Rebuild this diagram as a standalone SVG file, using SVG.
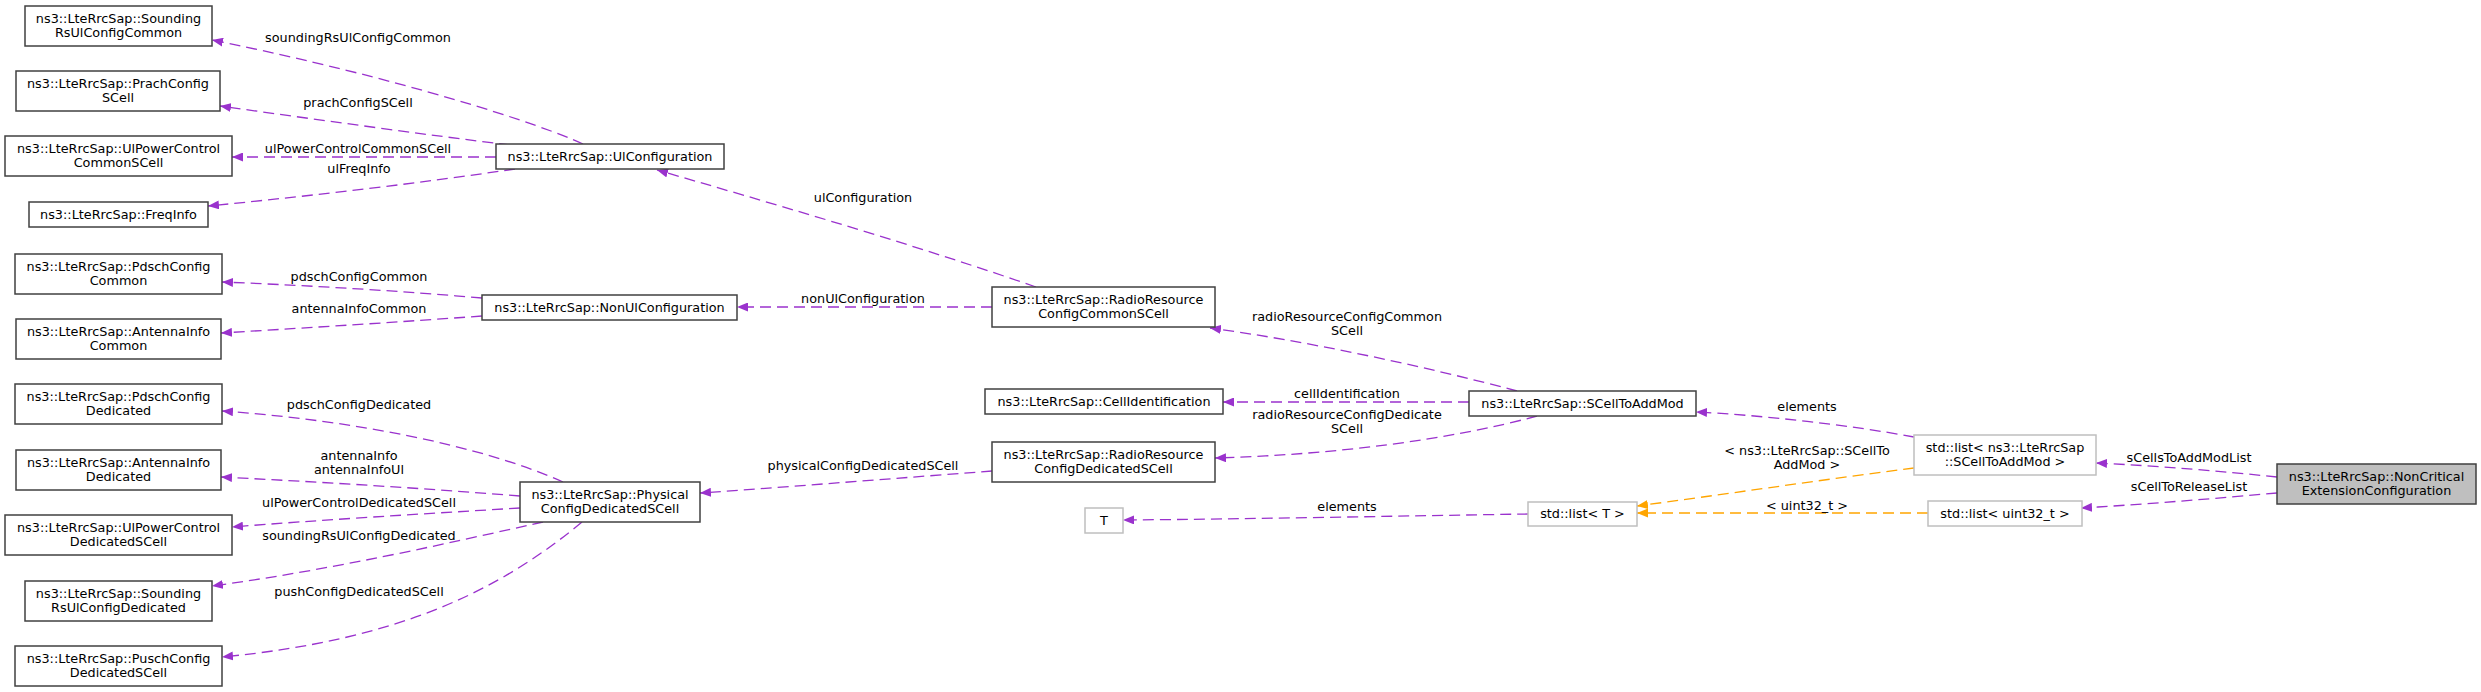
<svg xmlns="http://www.w3.org/2000/svg" width="2481" height="692" viewBox="0 0 2481 692">
<style>
text{font-family:"DejaVu Sans","Liberation Sans",sans-serif;font-size:12.8px;fill:#000;text-anchor:middle}
.n rect{fill:#fff;stroke:#404040;stroke-width:1.5}
.t rect{fill:#fff;stroke:#bfbfbf;stroke-width:1.5}
.root rect{fill:#bfbfbf;stroke:#404040;stroke-width:1.5}
.e path{fill:none;stroke:#9a32cd;stroke-width:1.3;stroke-dasharray:11,6;marker-end:url(#ap)}
.e path.o{stroke:#ffa500;marker-end:url(#ao)}
</style>
<defs>
<marker id="ap" markerUnits="userSpaceOnUse" markerWidth="12" markerHeight="9" refX="11" refY="4.5" orient="auto"><path d="M0,0 L11,4.5 L0,9 z" fill="#9a32cd"/></marker>
<marker id="ao" markerUnits="userSpaceOnUse" markerWidth="12" markerHeight="9" refX="11" refY="4.5" orient="auto"><path d="M0,0 L11,4.5 L0,9 z" fill="#ffa500"/></marker>
</defs>
<rect width="2481" height="692" fill="#fff"/>
<g id="connectors" class="e">
<path d="M583,144 C540,124 400,78 212,40"/>
<path d="M510,145 C420,134 320,120 220,106"/>
<path d="M496,157 L232,157"/>
<path d="M515,169 C420,183 320,195 208,206"/>
<path d="M1036,287 C900,240 760,200 657,170"/>
<path d="M992,307 L737,307"/>
<path d="M482,298 C400,291 320,286 222,282"/>
<path d="M482,316 C400,322 320,327 221,333"/>
<path d="M563,482 C480,445 350,420 222,411"/>
<path d="M520,496 C420,488 320,482 221,477"/>
<path d="M520,508 C420,514 320,520 232,527"/>
<path d="M543,522 C440,545 330,570 212,586"/>
<path d="M582,522 C500,590 400,640 222,657"/>
<path d="M992,471 C900,478 800,486 700,493"/>
<path d="M1517,391 C1420,365 1300,340 1210,328"/>
<path d="M1469,402 L1223,402"/>
<path d="M1537,416 C1450,440 1330,455 1215,458"/>
<path d="M1914,437 C1850,425 1760,415 1696,412"/>
<path d="M1528,514 C1400,516 1250,519 1123,520"/>
<path class="o" d="M1914,468 C1820,480 1720,495 1637,506"/>
<path class="o" d="M1928,513 L1637,513"/>
<path d="M2277,477 C2220,471 2160,466 2096,463"/>
<path d="M2277,493 C2220,498 2150,504 2081,508"/>
</g>
<g id="edge-labels">
<text x="358" y="42">soundingRsUlConfigCommon</text>
<text x="358" y="107">prachConfigSCell</text>
<text x="358" y="153">ulPowerControlCommonSCell</text>
<text x="359" y="173">ulFreqInfo</text>
<text x="863" y="202">ulConfiguration</text>
<text x="863" y="303">nonUlConfiguration</text>
<text x="359" y="281">pdschConfigCommon</text>
<text x="359" y="313">antennaInfoCommon</text>
<text x="359" y="409">pdschConfigDedicated</text>
<text x="359" y="460">antennaInfo</text>
<text x="359" y="474">antennaInfoUl</text>
<text x="359" y="507">ulPowerControlDedicatedSCell</text>
<text x="359" y="540">soundingRsUlConfigDedicated</text>
<text x="359" y="596">pushConfigDedicatedSCell</text>
<text x="863" y="470">physicalConfigDedicatedSCell</text>
<text x="1347" y="321">radioResourceConfigCommon</text>
<text x="1347" y="335">SCell</text>
<text x="1347" y="398">cellIdentification</text>
<text x="1347" y="419">radioResourceConfigDedicate</text>
<text x="1347" y="433">SCell</text>
<text x="1807" y="411">elements</text>
<text x="1347" y="511">elements</text>
<text x="1807" y="455">&lt; ns3::LteRrcSap::SCellTo</text>
<text x="1807" y="469">AddMod &gt;</text>
<text x="1807" y="510">&lt; uint32_t &gt;</text>
<text x="2189" y="462">sCellsToAddModList</text>
<text x="2189" y="491">sCellToReleaseList</text>
</g>
<g id="SoundingRsUlConfigCommon" class="n"><rect x="25" y="6" width="187" height="40"/><text x="118.5" y="23">ns3::LteRrcSap::Sounding</text><text x="118.5" y="37">RsUlConfigCommon</text></g>
<g id="PrachConfigSCell" class="n"><rect x="16" y="71" width="204" height="40"/><text x="118" y="88">ns3::LteRrcSap::PrachConfig</text><text x="118" y="102">SCell</text></g>
<g id="UlPowerControlCommonSCell" class="n"><rect x="5" y="136" width="227" height="40"/><text x="118.5" y="153">ns3::LteRrcSap::UlPowerControl</text><text x="118.5" y="167">CommonSCell</text></g>
<g id="FreqInfo" class="n"><rect x="29" y="202" width="179" height="25"/><text x="118.5" y="219">ns3::LteRrcSap::FreqInfo</text></g>
<g id="PdschConfigCommon" class="n"><rect x="15" y="254" width="207" height="40"/><text x="118.5" y="271">ns3::LteRrcSap::PdschConfig</text><text x="118.5" y="285">Common</text></g>
<g id="AntennaInfoCommon" class="n"><rect x="16" y="319" width="205" height="40"/><text x="118.5" y="336">ns3::LteRrcSap::AntennaInfo</text><text x="118.5" y="350">Common</text></g>
<g id="PdschConfigDedicated" class="n"><rect x="15" y="384" width="207" height="40"/><text x="118.5" y="401">ns3::LteRrcSap::PdschConfig</text><text x="118.5" y="415">Dedicated</text></g>
<g id="AntennaInfoDedicated" class="n"><rect x="16" y="450" width="205" height="40"/><text x="118.5" y="467">ns3::LteRrcSap::AntennaInfo</text><text x="118.5" y="481">Dedicated</text></g>
<g id="UlPowerControlDedicatedSCell" class="n"><rect x="5" y="515" width="227" height="40"/><text x="118.5" y="532">ns3::LteRrcSap::UlPowerControl</text><text x="118.5" y="546">DedicatedSCell</text></g>
<g id="SoundingRsUlConfigDedicated" class="n"><rect x="25" y="581" width="187" height="40"/><text x="118.5" y="598">ns3::LteRrcSap::Sounding</text><text x="118.5" y="612">RsUlConfigDedicated</text></g>
<g id="PuschConfigDedicatedSCell" class="n"><rect x="15" y="646" width="207" height="40"/><text x="118.5" y="663">ns3::LteRrcSap::PuschConfig</text><text x="118.5" y="677">DedicatedSCell</text></g>
<g id="UlConfiguration" class="n"><rect x="496" y="144" width="228" height="25"/><text x="610" y="161">ns3::LteRrcSap::UlConfiguration</text></g>
<g id="NonUlConfiguration" class="n"><rect x="482" y="295" width="255" height="25"/><text x="609.5" y="312">ns3::LteRrcSap::NonUlConfiguration</text></g>
<g id="PhysicalConfigDedicatedSCell" class="n"><rect x="520" y="482" width="180" height="40"/><text x="610" y="499">ns3::LteRrcSap::Physical</text><text x="610" y="513">ConfigDedicatedSCell</text></g>
<g id="RadioResourceConfigCommonSCell" class="n"><rect x="992" y="287" width="223" height="40"/><text x="1103.5" y="304">ns3::LteRrcSap::RadioResource</text><text x="1103.5" y="318">ConfigCommonSCell</text></g>
<g id="CellIdentification" class="n"><rect x="985" y="389" width="238" height="25"/><text x="1104" y="406">ns3::LteRrcSap::CellIdentification</text></g>
<g id="RadioResourceConfigDedicatedSCell" class="n"><rect x="992" y="442" width="223" height="40"/><text x="1103.5" y="459">ns3::LteRrcSap::RadioResource</text><text x="1103.5" y="473">ConfigDedicatedSCell</text></g>
<g id="T" class="t"><rect x="1085" y="508" width="38" height="25"/><text x="1104" y="525">T</text></g>
<g id="SCellToAddMod" class="n"><rect x="1469" y="391" width="227" height="25"/><text x="1582.5" y="408">ns3::LteRrcSap::SCellToAddMod</text></g>
<g id="ListT" class="t"><rect x="1528" y="502" width="109" height="24"/><text x="1582.5" y="518">std::list&lt; T &gt;</text></g>
<g id="ListSCellToAddMod" class="t"><rect x="1914" y="435" width="182" height="40"/><text x="2005" y="452">std::list&lt; ns3::LteRrcSap</text><text x="2005" y="466">::SCellToAddMod &gt;</text></g>
<g id="ListUint32" class="t"><rect x="1928" y="501" width="154" height="25"/><text x="2005" y="518">std::list&lt; uint32_t &gt;</text></g>
<g id="NonCriticalExtensionConfiguration" class="root"><rect x="2277" y="464" width="199" height="40"/><text x="2376.5" y="481">ns3::LteRrcSap::NonCritical</text><text x="2376.5" y="495">ExtensionConfiguration</text></g>
</svg>
